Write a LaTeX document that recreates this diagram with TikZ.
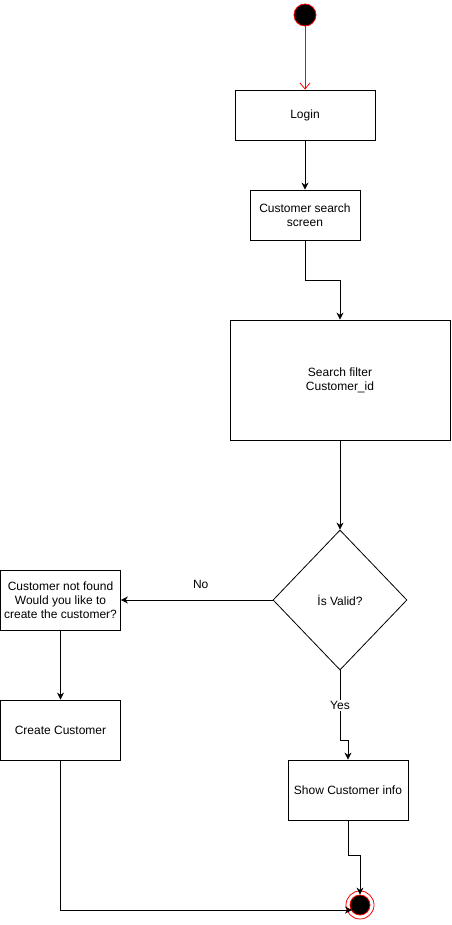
\documentclass[tikz,border=0pt]{standalone}
\usepackage{fontspec}
\setmainfont{Liberation Sans}
\usetikzlibrary{arrows.meta, shapes.geometric}

\begin{document}
\begin{tikzpicture}[x=1pt, y=-1pt, font=\fontsize{12}{14}\selectfont,
	box/.style = {draw, line width=0.8pt, align=center, inner sep=2pt},
	flow/.style = {draw, line width=0.8pt, -{Stealth[length=7pt, width=7pt]}}]
	\useasboundingbox (0,0) rectangle (451,925);
	
	\node [circle, fill=black, draw=red, line width=0.8pt, minimum size=22pt, inner sep=0pt] (start) at (305,15) {};
	\node [box, minimum width=140pt, minimum height=50pt] (login) at (305,115) {Login};
	\node [box, minimum width=110pt, minimum height=50pt] (screen) at (305,215) {Customer search\\screen};
	\node [box, minimum width=220pt, minimum height=120pt] (filter) at (340,380) {Search filter\\Customer\_id};
	\node [diamond, draw, line width=0.8pt, minimum width=134pt, minimum height=140pt, inner sep=0pt] (valid) at (340,600) {İs Valid?};
	\node [box, minimum width=120pt, minimum height=60pt] (notfound) at (60.5,600) {Customer not found\\Would you like to\\create the customer?};
	\node [box, minimum width=120pt, minimum height=60pt] (create) at (60.5,730) {Create Customer};
	\node [box, minimum width=120pt, minimum height=60pt] (show) at (348,790) {Show Customer info};
	\node [circle, fill=black, draw=red, line width=0.8pt, minimum size=20pt, inner sep=0pt] (finish) at (360,905) {};
	\draw [red, line width=0.8pt] (finish) circle [radius=14pt];
	\coordinate (finishin) at (352,910);
	
	\draw [red, line width=0.8pt, -{Straight Barb[length=6pt, width=10pt]}] (start) -- (login);
	\draw [flow] (login) -- (screen);
	\draw [flow] (screen.south) -- ++(0,40) -| (filter.north);
	\draw [flow] (filter) -- (valid);
	\draw [flow] (valid.west) -- node [midway, xshift=4pt, yshift=16pt] {No} (notfound.east);
	\draw [flow] (notfound) -- (create);
	\draw [flow] (valid.south) -- node [fill=white, inner sep=1pt] {Yes} ++(0,70) -| (show.north);
	\draw [flow] (show.south) -- ++(0,35) -| (finish);
	\draw [flow] (create.south) |- (finishin);
\end{tikzpicture}
\end{document}
